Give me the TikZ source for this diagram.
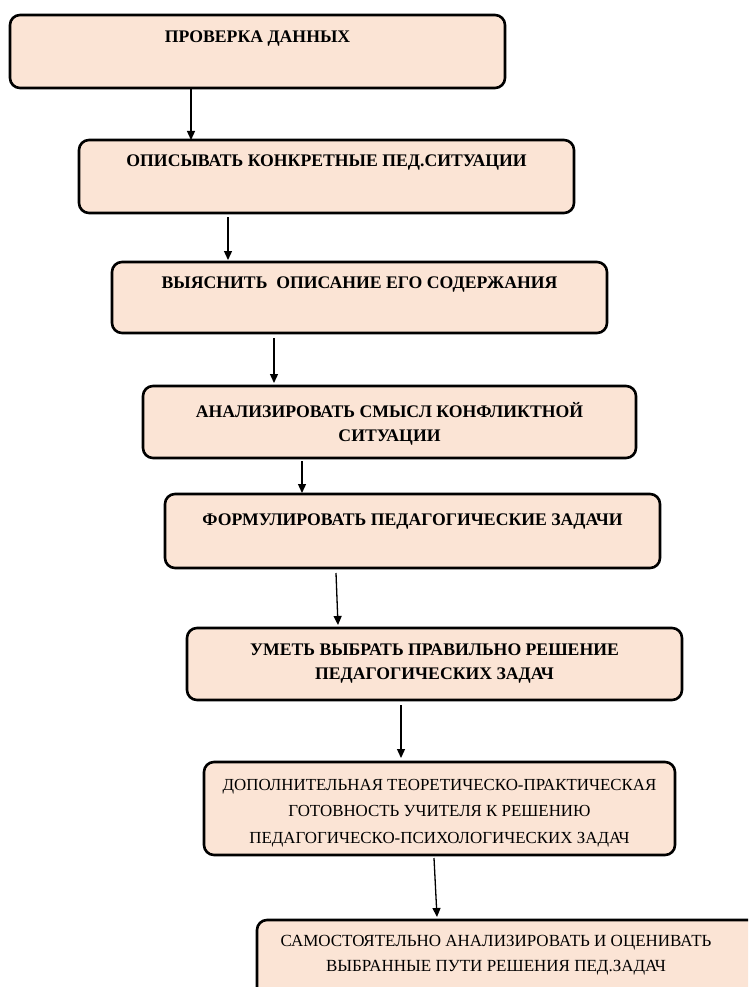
\documentclass[tikz,border=0pt]{standalone}
\usepackage{fontspec}
\setmainfont{Liberation Serif}
\usetikzlibrary{arrows.meta}
\definecolor{peach}{HTML}{FBE4D5}
\newcommand{\bxt}[5]{\parbox[c][#2pt][t]{#1pt}{\centering\vspace*{#3pt}\fontsize{#4}{24}\selectfont #5\par}}
\tikzset{
  box/.style={draw=black, line width=2.6pt, rounded corners=10pt, fill=peach, inner sep=0pt, outer sep=0pt, anchor=north west},
  arr/.style={line width=1.3pt, -{Triangle[width=8pt,length=9pt]}},
}
\begin{document}
\begin{tikzpicture}[x=1pt,y=-1pt]
\useasboundingbox (0,0) rectangle (748,987);
\clip (0,0) rectangle (748,987);
\node[box] (b1) at (10,15) {\bxt{495}{73}{16}{17.7}{\bfseries ПРОВЕРКА ДАННЫХ}};
\node[box] (b2) at (79,140) {\bxt{495}{73}{15}{17.7}{\bfseries ОПИСЫВАТЬ КОНКРЕТНЫЕ ПЕД.СИТУАЦИИ}};
\node[box] (b3) at (112,262) {\bxt{495}{71}{15}{17.7}{\bfseries ВЫЯСНИТЬ\ \ ОПИСАНИЕ ЕГО СОДЕРЖАНИЯ}};
\node[box] (b4) at (143,386) {\bxt{493}{72}{16}{17.7}{\bfseries АНАЛИЗИРОВАТЬ СМЫСЛ КОНФЛИКТНОЙ\\ СИТУАЦИИ}};
\node[box] (b5) at (165,494) {\bxt{495}{74}{20}{17.7}{\bfseries ФОРМУЛИРОВАТЬ ПЕДАГОГИЧЕСКИЕ ЗАДАЧИ}};
\node[box] (b6) at (187,628) {\bxt{495}{72}{16}{17.7}{\bfseries УМЕТЬ ВЫБРАТЬ ПРАВИЛЬНО РЕШЕНИЕ\\ ПЕДАГОГИЧЕСКИХ ЗАДАЧ}};
\node[box] (b7) at (204,762) {\bxt{471}{93}{17}{16.9}{\baselineskip=26.5pt ДОПОЛНИТЕЛЬНАЯ ТЕОРЕТИЧЕСКО-ПРАКТИЧЕСКАЯ\\ ГОТОВНОСТЬ УЧИТЕЛЯ К РЕШЕНИЮ\\ ПЕДАГОГИЧЕСКО-ПСИХОЛОГИЧЕСКИХ ЗАДАЧ}};
\node[box] (b8) at (257,920) {\bxt{520}{90}{15}{17}{\rightskip=42pt plus 1fil\baselineskip=25pt САМОСТОЯТЕЛЬНО АНАЛИЗИРОВАТЬ И ОЦЕНИВАТЬ\\ ВЫБРАННЫЕ ПУТИ РЕШЕНИЯ ПЕД.ЗАДАЧ}};
\draw[arr] ([xshift=-66.5pt]b1.south) -- ([xshift=-135.5pt]b2.north);
\draw[arr] ([shift={(-98.5,4)}]b2.south) -- ([shift={(-131.5,-2)}]b3.north);
\draw[arr] ([shift={(-85.5,5)}]b3.south) -- ([shift={(-115.5,-3)}]b4.north);
\draw[arr] ([shift={(-87.5,3)}]b4.south) -- ([shift={(-110.5,-1)}]b5.north);
\draw[arr] ([shift={(-76.5,5)}]b5.south) -- ([shift={(-96.5,-3)}]b6.north);
\draw[arr] ([shift={(-33.5,5)}]b6.south) -- ([shift={(-38.5,-4)}]b7.north);
\draw[arr] ([shift={(-5.5,3)}]b7.south) -- ([shift={(-80,-3)}]b8.north);
\end{tikzpicture}
\end{document}
